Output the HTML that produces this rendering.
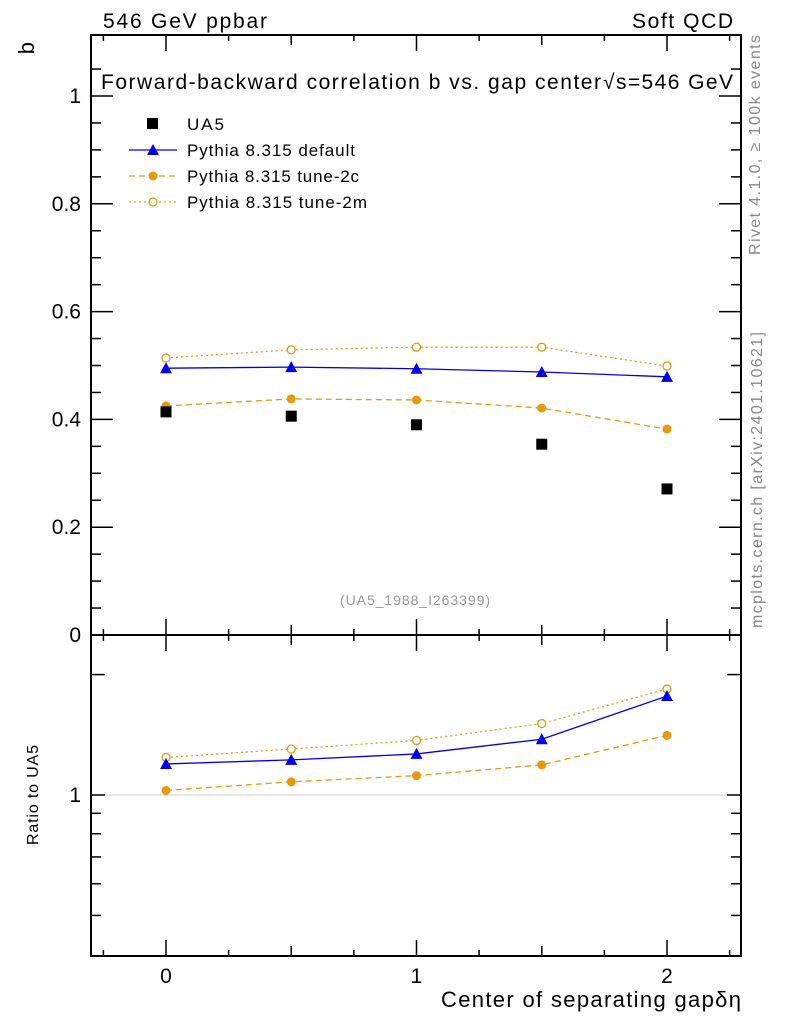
<!DOCTYPE html>
<html><head><meta charset="utf-8"><style>
body{margin:0;background:#fff;}
svg text{font-family:"Liberation Sans",sans-serif;}
</style></head><body>
<svg id="c" width="786" height="1024" xmlns="http://www.w3.org/2000/svg">
<rect width="786" height="1024" fill="#fff"/>
<text x="103" y="28" font-size="21" textLength="164">546 GeV ppbar</text>
<text x="632" y="28" font-size="21" textLength="101">Soft QCD</text>
<text x="34" y="42" font-size="22" transform="rotate(-90 34 42)" text-anchor="end">b</text>
<text x="101" y="89" font-size="21" textLength="500">Forward-backward correlation b  vs. gap center</text>
<text x="603" y="89" font-size="21" textLength="130">√s=546 GeV</text>
<text x="760" y="255" font-size="16" fill="#888" textLength="220" transform="rotate(-90 760 255)">Rivet 4.1.0, ≥ 100k events</text>
<text x="762" y="628" font-size="16" fill="#888" textLength="296" transform="rotate(-90 762 628)">mcplots.cern.ch [arXiv:2401.10621]</text>
<text x="340" y="605" font-size="14" fill="#999" textLength="150">(UA5_1988_I263399)</text>
<text x="38" y="845" font-size="16" textLength="100" transform="rotate(-90 38 845)">Ratio to UA5</text>
<text x="441" y="1007" font-size="22" textLength="300">Center of separating gapδη</text>
<g id="g"></g>
</svg>
<script>
const xs=[0,0.5,1,1.5,2];
const ua5=[0.414,0.406,0.390,0.354,0.271];
const pDefault=[0.495,0.497,0.494,0.488,0.479];
const p2c=[0.425,0.438,0.436,0.421,0.382];
const p2m=[0.514,0.529,0.534,0.534,0.499];
const yTicks=[0,0.2,0.4,0.6,0.8,1];
const xTicks=[0,1,2];
const ratioTicks=[0.5,0.6,0.7,0.8,0.9,1,2];
const L=91,R=741,T=35,MB=635,RB=956;
const X=v=>166+(v-0)*250.5;
const Y=v=>635-v*539;
const RY=v=>795-Math.log10(v)*400;
const NS='http://www.w3.org/2000/svg',g=document.getElementById('g');
function mk(t,a){const e=document.createElementNS(NS,t);for(const k in a)e.setAttribute(k,a[k]);g.appendChild(e);return e;}
let e;
e=mk('rect',{x:L,y:T,width:R-L,height:MB-T,fill:'none',stroke:'#000','stroke-width':2});


e=mk('rect',{x:L,y:MB,width:R-L,height:RB-MB,fill:'none',stroke:'#000','stroke-width':2});


e=mk('line',{x1:L,x2:R,y1:RY(1),y2:RY(1),stroke:'#ccc','stroke-width':1});


for(let v=-0.25;v<=2.3;v+=0.25){const big=Math.abs(v-Math.round(v))<1e-6;const len=big?16:(Math.abs(v*2-Math.round(v*2))<1e-6?10:6);const x=X(v);
[[T,1],[MB,1],[MB,-1],[RB,-1]].forEach(([y,d])=>{e=mk('line',{x1:x,x2:x,y1:y,y2:y+d*len,stroke:'#000','stroke-width':1.5});});}
xTicks.forEach(v=>{e=mk('text',{x:X(v),y:983,'font-size':21,'text-anchor':'middle'});e.textContent=v;});
for(let v=0;v<=1.1;v+=0.05){const big=Math.abs(v*5-Math.round(v*5))<1e-6;const y=Y(v);
[[L,1],[R,-1]].forEach(([x,d])=>{e=mk('line',{x1:x,x2:x+d*(big?22:10),y1:y,y2:y,stroke:'#000','stroke-width':1.5});});}
yTicks.forEach(v=>{e=mk('text',{x:81,y:Y(v)+7,'font-size':21,'text-anchor':'end'});e.textContent=v;});
ratioTicks.forEach(v=>{const y=RY(v);[[L,1],[R,-1]].forEach(([x,d])=>{e=mk('line',{x1:x,x2:x+d*(v==1||v==2?14:10),y1:y,y2:y,stroke:'#000','stroke-width':1.5});});});
e=mk('text',{x:81,y:RY(1)+7,'font-size':21,'text-anchor':'end'});e.textContent='1';


function series(vals,yf,color,dash,marker,name){
 const pts=xs.map((x,i)=>X(x)+','+yf(vals[i])).join(' ');
 e=mk('polyline',{points:pts,fill:'none',stroke:color,'stroke-width':1.3,'stroke-dasharray':dash});
 
 
 xs.forEach((x,i)=>{marker(X(x),yf(vals[i]),name);});
}
function tri(x,y,n){e=mk('polygon',{points:`${x-6},${y+5} ${x+6},${y+5} ${x},${y-6}`,fill:'#0000ee'});}
function dot(x,y,n){e=mk('circle',{cx:x,cy:y,r:4.5,fill:'#e69a10'});}
function ring(x,y,n){e=mk('circle',{cx:x,cy:y,r:4,fill:'#fff',stroke:'#e69a10','stroke-width':1.3});}
series(p2m,Y,'#e69a10','2 3',ring,'tune-2m');
series(pDefault,Y,'#0000ee','',tri,'default');
series(p2c,Y,'#e69a10','6 4',dot,'tune-2c');
xs.forEach((x,i)=>{e=mk('rect',{x:X(x)-5.5,y:Y(ua5[i])-5.5,width:11,height:11,fill:'#000'});});
const r=a=>a.map((v,i)=>v/ua5[i]);
series(r(p2m),RY,'#e69a10','2 3',ring,'ratio-tune-2m');
series(r(pDefault),RY,'#0000ee','',tri,'ratio-default');
series(r(p2c),RY,'#e69a10','6 4',dot,'ratio-tune-2c');
const leg=[['UA5',124,37],['Pythia 8.315 default',150,168],['Pythia 8.315 tune-2c',176,172],['Pythia 8.315 tune-2m',202,180]];
leg.forEach(([t,y,w])=>{e=mk('text',{x:187,y:y+6,'font-size':17,textLength:w});e.textContent=t;});
e=mk('rect',{x:147,y:118,width:11,height:11,fill:'#000'});
e=mk('line',{x1:129,x2:177,y1:150,y2:150,stroke:'#0000ee','stroke-width':1.3});tri(153,150,'legend-default');
e=mk('line',{x1:129,x2:177,y1:176,y2:176,stroke:'#e69a10','stroke-width':1.3,'stroke-dasharray':'6 4'});dot(153,176,'legend-2c');
e=mk('line',{x1:129,x2:177,y1:202,y2:202,stroke:'#e69a10','stroke-width':1.3,'stroke-dasharray':'2 3'});ring(153,202,'legend-2m');
</script>
</body></html>
